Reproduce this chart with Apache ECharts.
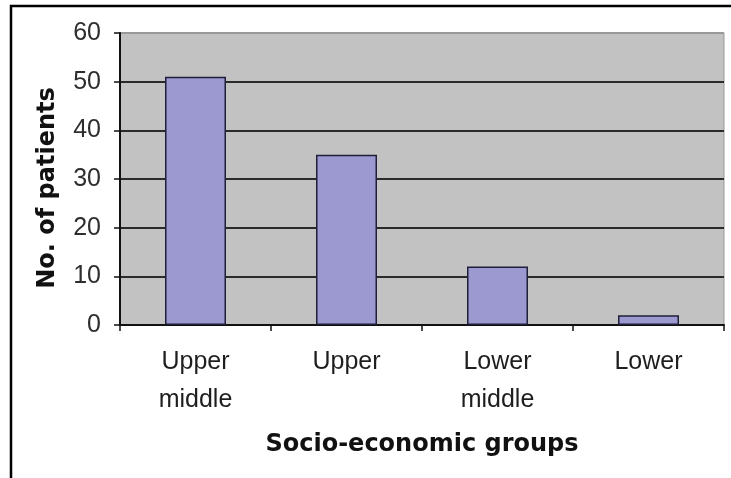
<!DOCTYPE html>
<html>
<head>
<meta charset="utf-8">
<script src="https://cdn.jsdelivr.net/npm/echarts@6/dist/echarts.min.js"></script>
<style>
  html, body { margin: 0; padding: 0; background: #ffffff; }
  #chart { width: 731px; height: 478px; }
</style>
</head>
<body>
<div id="chart"></div>
<script>
// Patients by socio-economic group
var categories = ['Upper\nmiddle', 'Upper', 'Lower\nmiddle', 'Lower'];
var patients = [51, 35, 12, 2];
var yTicks = { min: 0, max: 60, interval: 10 };

var chart = echarts.init(document.getElementById('chart'), null, { renderer: 'canvas' });

var labelFont = '"Liberation Sans", Arial, sans-serif';
var titleFont = '"DejaVu Sans", Arial, sans-serif';

chart.setOption({
  animation: false,
  backgroundColor: '#ffffff',
  graphic: [{
    type: 'rect',
    shape: { x: 11, y: 6, width: 760, height: 520 },
    style: { fill: 'none', stroke: '#000000', lineWidth: 2.5 },
    z: 100
  }],
  grid: {
    left: 120, right: 7, top: 33, bottom: 153,
    show: true,
    backgroundColor: '#c2c2c2',
    borderColor: '#999999',
    borderWidth: 1
  },
  xAxis: {
    type: 'category',
    data: categories,
    name: 'Socio-economic groups',
    nameLocation: 'middle',
    nameGap: 108,
    nameTextStyle: { fontFamily: titleFont, fontSize: 24, fontWeight: 'bold', color: '#111111' },
    axisLine: { show: true, lineStyle: { color: '#111111', width: 2 } },
    axisTick: { show: true, alignWithLabel: false, length: 6, lineStyle: { color: '#111111', width: 1.5 } },
    axisLabel: { fontFamily: labelFont, fontSize: 25, color: '#1e1e1e', margin: 18, lineHeight: 38, interval: 0 },
    splitLine: { show: false }
  },
  yAxis: {
    type: 'value',
    min: yTicks.min, max: yTicks.max, interval: yTicks.interval,
    name: 'No. of patients',
    nameLocation: 'middle',
    nameGap: 60,
    nameTextStyle: { fontFamily: titleFont, fontSize: 24, fontWeight: 'bold', color: '#111111', padding: [0, 18, 0, 0] },
    axisLine: { show: true, lineStyle: { color: '#111111', width: 2 } },
    axisTick: { show: true, length: 6, lineStyle: { color: '#111111', width: 1.5 } },
    axisLabel: { fontFamily: labelFont, fontSize: 25, color: '#2e2e2e', margin: 19 },
    splitLine: {
      show: true,
      lineStyle: {
        color: ['#2a2a2a', '#2a2a2a', '#2a2a2a', '#2a2a2a', '#2a2a2a', '#2a2a2a', '#999999'],
        width: 2
      }
    }
  },
  series: [{
    type: 'bar',
    data: patients,
    barWidth: 61,
    itemStyle: { color: '#9b99cf', borderColor: '#1f1f3a', borderWidth: 1.5 }
  }]
});
</script>
</body>
</html>
